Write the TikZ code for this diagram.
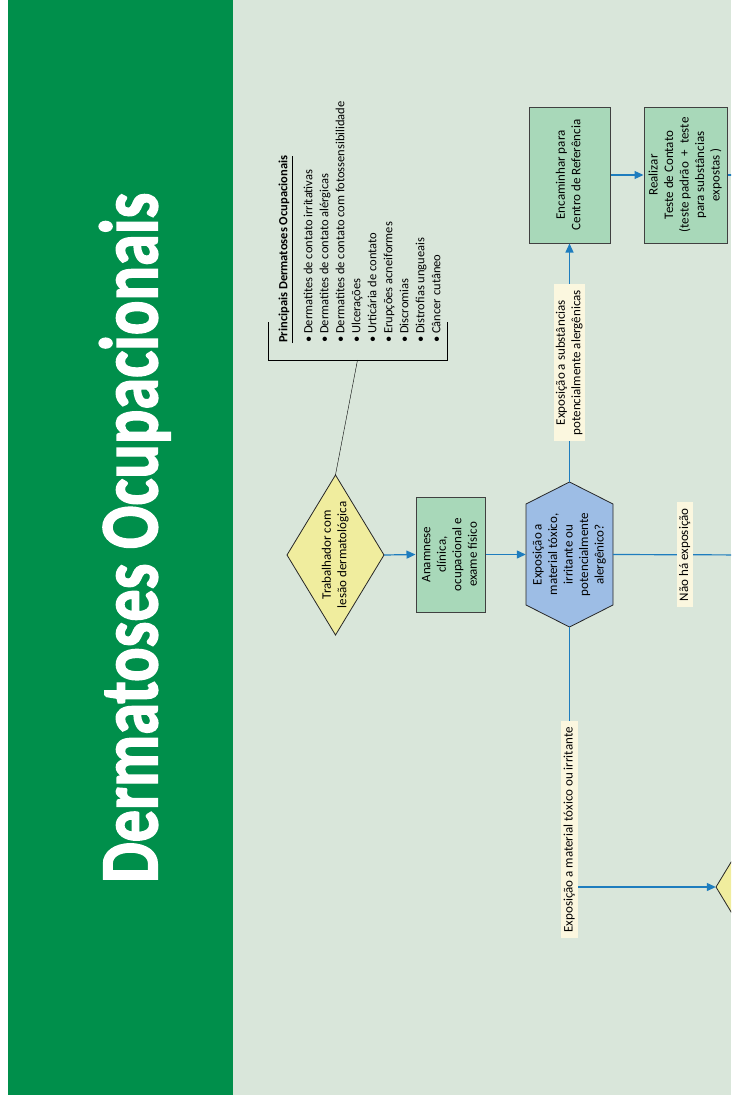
\documentclass[tikz,border=0pt]{standalone}
\usepackage{fontspec}
\setmainfont{Carlito}
\newfontfamily\fonttitulo{Carlito}[BoldFeatures={FakeBold=2}]
\usepackage{graphicx}
\usetikzlibrary{arrows.meta}

\definecolor{verdefaixa}{RGB}{0,143,75}
\definecolor{fundo}{RGB}{217,230,218}
\definecolor{amarelo}{RGB}{240,237,158}
\definecolor{verdecaixa}{RGB}{168,216,185}
\definecolor{azulhex}{RGB}{157,189,229}
\definecolor{creme}{RGB}{251,247,223}
\definecolor{azulseta}{RGB}{30,125,190}

\newcommand{\girar}[1]{\rotatebox{90}{\begin{tabular}{@{}c@{}}#1\end{tabular}}}
\newcommand{\girarl}[1]{\rotatebox{90}{\begin{tabular}{@{}l@{}}#1\end{tabular}}}

\tikzset{
  fonte/.style={font=\fontsize{13}{15.5}\selectfont},
  caixa/.style={fonte, draw=black!75, fill=verdecaixa, line width=1pt, inner sep=0pt},
  forma/.style={fonte, inner sep=0pt},
  rotulo/.style={fonte, fill=creme, inner xsep=0.3pt, inner ysep=6pt},
  seta/.style={draw=azulseta, line width=1.2pt, -{Triangle[length=9pt,width=8pt]}},
  linha/.style={draw=azulseta, line width=1.2pt},
  losango/.style={draw=black!85, fill=amarelo, line width=0.8pt},
  sextavado/.style={draw=black!85, fill=azulhex, line width=0.8pt},
  lista/.style={font=\fontsize{12.5}{16}\selectfont, anchor=south west, inner sep=0pt}
}

\begin{document}
\begin{tikzpicture}[x=1pt, y=-1pt]
  \useasboundingbox (0,0) rectangle (731,1095);
  \clip (0,0) rectangle (731,1095);

  % Fundo e faixa do titulo
  \fill[white] (0,0) rectangle (731,1095);
  \fill[fundo] (233,0) rectangle (731,1095);
  \fill[verdefaixa] (8,0) rectangle (233,1095);
  \node[anchor=south west, inner sep=0pt, text=white, font=\fonttitulo\bfseries\fontsize{80}{80}\selectfont] (titulo) at (99,883)
    {\rotatebox{90}{\resizebox{690pt}{58pt}{Dermatoses Ocupacionais}}};

  % Losangos e hexagono
  \draw[losango] (287,555) -- (335.5,475) -- (384,555) -- (335.5,635) -- cycle;
  \node[forma, minimum width=97pt, minimum height=160pt] (trab) at (335.5,555)
    {\girar{Trabalhador com\\lesão dermatológica}};
  \draw[sextavado] (526,504) -- (569.5,482) -- (613,504) -- (613,605) -- (569.5,627) -- (526,605) -- cycle;
  \node[forma, minimum width=87pt, minimum height=145pt] (expo) at (569.5,554.5)
    {\girar{Exposição a\\material tóxico,\\irritante ou\\potencialmente\\alergênico?}};
  \draw[losango] (716,887) -- (764.5,807) -- (813,887) -- (764.5,967) -- cycle;
  \node[forma, minimum width=97pt, minimum height=160pt] (prox) at (764.5,887) {};

  % Caixas
  \node[caixa, minimum width=69pt, minimum height=115pt] (anam) at (450.5,554.5)
    {\girar{Anamnese\\clínica,\\ocupacional e\\exame físico}};
  \node[caixa, minimum width=81pt, minimum height=136pt] (encam) at (569.5,175)
    {\girar{Encaminhar para\\Centro de Referência}};
  \node[caixa, minimum width=83pt, minimum height=136pt] (teste) at (685.5,175)
    {\girar{Realizar\\Teste de Contato\\(teste padrão \ + \ teste\\para substâncias\\expostas )}};

  % Lista das dermatoses
  \node[lista] (titlista) at (276,343) {\girar{\textbf{Principais Dermatoses Ocupacionais}}};
  \draw (titlista.south east) -- (titlista.north east);
  \node[lista] (doencas) at (301,343) {\girarl{%
    \textbullet\ Dermatites de contato irritativas\\
    \textbullet\ Dermatites de contato alérgicas\\
    \textbullet\ Dermatites de contato com fotossensibilidade\\
    \textbullet\ Ulcerações\\
    \textbullet\ Urticária de contato\\
    \textbullet\ Erupções acneiformes\\
    \textbullet\ Discromias\\
    \textbullet\ Distrofias ungueais\\
    \textbullet\ Câncer cutâneo}};
  \draw (268,322) -- (268,360) -- (447,360) -- (447,322);
  \coordinate (chave) at (357.5,360);
  \draw (chave) -- (trab.north);

  % Conectores
  \coordinate (saidateste) at (745,175);
  \coordinate (saidanao) at (757,555);
  \draw[seta] (trab.east) -- (anam.west);
  \draw[seta] (anam.east) -- (expo.west);
  \draw[seta] (expo.north) -- node[rotulo] (lblalerg)
    {\girar{Exposição a substâncias\\potencialmente alergênicas}} (encam.south);
  \draw[seta] (encam.east) -- (teste.west);
  \draw[linha] (teste.east) -- (saidateste);
  \draw[linha] (expo.east) -- node[rotulo] (lblnao) {\girar{Não há exposição}} (saidanao);
  \draw[seta] (expo.south) |- node[rotulo, pos=0.39] (lbltox)
    {\girar{Exposição a material tóxico ou irritante}} (prox.west);
\end{tikzpicture}
\end{document}
